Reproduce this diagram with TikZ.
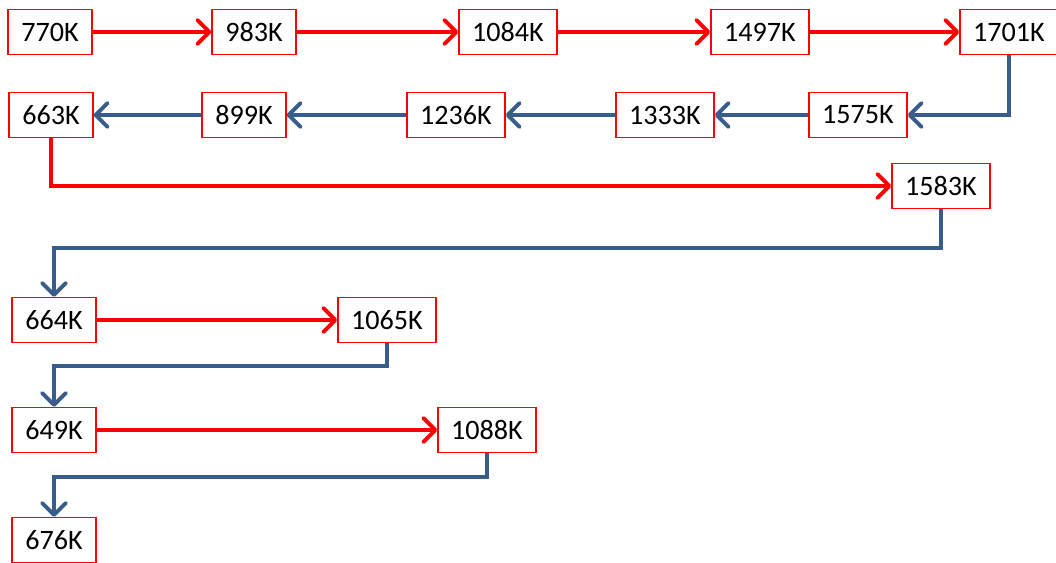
\documentclass[tikz,border=0pt]{standalone}
\usepackage{fontspec}
\setmainfont{Carlito}
\usepackage{tikz}
\usetikzlibrary{arrows.meta}
\definecolor{flowblue}{RGB}{56,93,138}
\tikzset{
  valbox/.style  = {draw=red,line width=1pt,fill=white,minimum height=1.12cm,
                    inner xsep=0.33cm,font=\fontsize{20}{24}\selectfont},
  fwdarr/.style  = {-{Straight Barb[length=3mm,width=6mm,round]},red,line width=2.8pt},
  backarr/.style = {-{Straight Barb[length=3mm,width=6mm,round]},flowblue,line width=2.8pt}
}

\begin{document}
\begin{tikzpicture}[x=0.025cm,y=-0.025cm]
  \useasboundingbox (0,0) rectangle (1056,563);
  % first row, left to right
  \node[valbox] (n770)  at (50,32)   {770K};
  \node[valbox] (n983)  at (254,32)  {983K};
  \node[valbox] (n1084) at (508,32)  {1084K};
  \node[valbox] (n1497) at (760,32)  {1497K};
  \node[valbox] (n1701) at (1009,32) {1701K};
  % second row, right to left
  \node[valbox] (n1575) at (858,115) {1575K};
  \node[valbox] (n1333) at (665,115) {1333K};
  \node[valbox] (n1236) at (456,115) {1236K};
  \node[valbox] (n899)  at (244,115) {899K};
  \node[valbox] (n663)  at (51,115)  {663K};
  \node[valbox] (n1583) at (941,186) {1583K};
  % lower rows
  \node[valbox] (n664)  at (54,320)  {664K};
  \node[valbox] (n1065) at (387,320) {1065K};
  \node[valbox] (n649)  at (54,430)  {649K};
  \node[valbox] (n1088) at (487,430) {1088K};
  \node[valbox] (n676)  at (54,540)  {676K};

  \draw[fwdarr] (n770) -- (n983);
  \draw[fwdarr] (n983) -- (n1084);
  \draw[fwdarr] (n1084) -- (n1497);
  \draw[fwdarr] (n1497) -- (n1701);
  \draw[backarr] (n1701.south) |- (n1575.east);
  \draw[backarr] (n1575) -- (n1333);
  \draw[backarr] (n1333) -- (n1236);
  \draw[backarr] (n1236) -- (n899);
  \draw[backarr] (n899) -- (n663);
  \draw[fwdarr] (n663.south) |- (n1583.west);
  \draw[backarr] (n1583.south) -- ++(0,39) -| (n664.north);
  \draw[fwdarr] (n664) -- (n1065);
  \draw[backarr] (n1065.south) -- ++(0,23) -| (n649.north);
  \draw[fwdarr] (n649) -- (n1088);
  \draw[backarr] (n1088.south) -- ++(0,24) -| (n676.north);
\end{tikzpicture}
\end{document}
